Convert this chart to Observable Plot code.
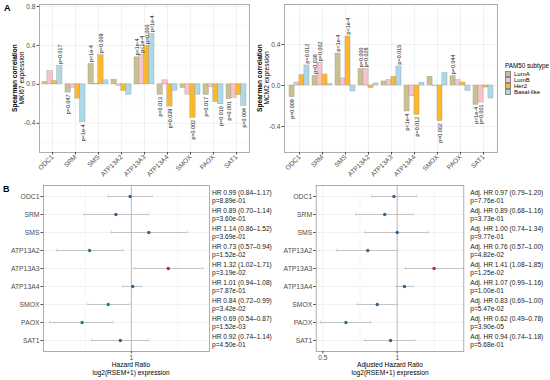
<!DOCTYPE html>
<html><head><meta charset="utf-8">
<script src="https://cdn.jsdelivr.net/npm/d3@7"></script>
<script src="https://cdn.jsdelivr.net/npm/@observablehq/plot@0.6"></script>
<style>
body{margin:0;background:#fff;font-family:"Liberation Sans",Arial,sans-serif}
#root{position:relative;width:550px;height:380px;overflow:hidden;background:#fff}
svg text{font-family:"Liberation Sans",Arial,sans-serif}
.plab{position:absolute;font-weight:bold;font-size:9px;color:#000}
.ytitle{position:absolute;transform-origin:0 0;transform:rotate(-90deg);white-space:nowrap;text-align:center;font-size:6.6px;line-height:7px;color:#000}
.xtitle{position:absolute;white-space:nowrap;text-align:center;font-size:6.6px;line-height:8px;color:#000}
.leg{position:absolute;font-size:6px;color:#000;line-height:6px}
.leg .row{display:flex;align-items:center;height:6px}
.leg .key{width:4px;height:4px;border:0.5px solid #888;margin-right:3px}
</style></head><body><div id="root"></div>
<script>
// ---- data ----
const genes = ["ODC1","SRM","SMS","ATP13A2","ATP13A3","ATP13A4","SMOX","PAOX","SAT1"];
const subtypes = ["LumA","LumB","Her2","Basal-like"];
const subtypeColors = ["#c9c28e","#f8c3ce","#fbb82b","#abd9e8"];

// Spearman correlation with MKI67
const mki67LumA  = [0.024,-0.085,0.209,0.048,0.277,-0.109,-0.038,-0.109,-0.150];
const mki67LumB  = [0.137,-0.034,0.004,-0.014,0.304,0.041,-0.106,-0.031,-0.137];
const mki67Her2  = [0.034,-0.147,0.300,-0.068,0.393,-0.229,-0.345,-0.181,-0.109];
const mki67Basal = [0.188,-0.390,0.041,-0.106,0.516,-0.065,-0.106,-0.205,-0.222];
const mki67PLumA  = ["","p=0.047","p<1e-4","","p<1e-4","p=0.013","","p=0.017","p=0.001"];
const mki67PLumB  = ["","","","","p<1e-4","","","",""];
const mki67PHer2  = ["","","p=0.009","","p=0.000","p=0.039","p=0.002","",""];
const mki67PBasal = ["p=0.017","p<1e-4","","","p<1e-4","","","p=0.010","p=0.004"];

// Spearman correlation with MCM2
const mcm2LumA  = [-0.114,0.094,0.312,0.159,0.039,-0.254,0.085,0.091,-0.189];
const mcm2LumB  = [0.029,0.218,0.068,0.159,0.052,-0.104,-0.003,0.052,-0.166];
const mcm2Her2  = [0.100,0.107,0.478,-0.026,0.085,-0.286,-0.348,0.029,-0.020];
const mcm2Basal = [0.195,0.013,-0.059,0.020,0.185,0.026,0.120,-0.052,-0.127];
const mcm2PLumA  = ["p=0.009","p=0.038","p<1e-4","p=0.000","","p<1e-4","","p=0.044","p<1e-4"];
const mcm2PLumB  = ["","p=0.002","","p=0.028","","","","","p=0.001"];
const mcm2PHer2  = ["","","p<1e-4","","","p=0.012","p=0.002","",""];
const mcm2PBasal = ["p=0.012","","","","p=0.015","","","",""];

// Cox models (hazard ratios)
const hr     = [0.99,0.89,1.14,0.73,1.32,1.01,0.84,0.69,0.92];
const hrLo   = [0.84,0.70,0.86,0.57,1.02,0.94,0.72,0.54,0.74];
const hrHi   = [1.17,1.14,1.52,0.94,1.71,1.08,0.99,0.87,1.14];
const hrP    = ["8.89e-01","3.60e-01","3.69e-01","1.52e-02","3.19e-02","7.87e-01","3.42e-02","1.52e-03","4.50e-01"];
const adjHr   = [0.97,0.89,1.00,0.76,1.41,1.07,0.83,0.62,0.94];
const adjHrLo = [0.79,0.68,0.74,0.57,1.08,0.99,0.69,0.49,0.74];
const adjHrHi = [1.20,1.16,1.34,1.00,1.85,1.16,1.00,0.78,1.18];
const adjHrP  = ["7.76e-01","3.73e-01","9.77e-01","4.82e-02","1.25e-02","1.00e-01","5.47e-02","3.90e-05","5.68e-01"];

const pointColors = {ns:"#2a659c", low:"#1d8a3e", high:"#c4262f"};
const FONT = "Liberation Sans, Arial, sans-serif";

// ---- helpers ----
const root = document.getElementById("root");
function place(el, left, top) {
  el.style.position = "absolute"; el.style.left = left + "px"; el.style.top = top + "px";
  root.appendChild(el);
}
function div(cls, html, left, top, extra) {
  const d = document.createElement("div"); d.className = cls; d.innerHTML = html;
  d.style.left = left + "px"; d.style.top = top + "px";
  if (extra) Object.assign(d.style, extra);
  root.appendChild(d); return d;
}

function barChart({vals, pl, width, height, mt, mr, mb, ml, yDomain, yTicks, yMinor}) {
  const rows = [];
  subtypes.forEach((s, i) => genes.forEach((g, j) =>
    rows.push({gene: g, subtype: s, i, value: vals[i][j], p: pl[i][j]})));
  const pIn = 0.15, pOut = 0.13;
  const step = (width - ml - mr) / (genes.length - pIn + 2 * pOut);
  const sub = step * (1 - pIn) / 4;
  const marks = [
    Plot.ruleY(yMinor, {stroke: "#f2f2f2", strokeWidth: 0.5}),
    Plot.gridY({ticks: yTicks, stroke: "#ebebeb", strokeOpacity: 1, strokeWidth: 0.7}),
    Plot.gridX({stroke: "#ebebeb", strokeOpacity: 1, strokeWidth: 0.7})
  ];
  subtypes.forEach((s, i) => {
    const d = rows.filter(r => r.subtype === s);
    marks.push(Plot.barY(d, {x: "gene", y: "value", fill: subtypeColors[i], stroke: "#9a9a9a",
      strokeWidth: 0.4, insetLeft: i * sub, insetRight: (3 - i) * sub}));
  });
  subtypes.forEach((s, i) => {
    const d = rows.filter(r => r.subtype === s && r.p);
    const dx = (i - 1.5) * sub;
    marks.push(Plot.text(d.filter(r => r.value >= 0), {x: "gene", y: "value", text: "p", rotate: -90,
      textAnchor: "start", dx, dy: -2, fontSize: 5.4, fontFamily: FONT, fill: "#1a1a1a"}));
    marks.push(Plot.text(d.filter(r => r.value < 0), {x: "gene", y: "value", text: "p", rotate: -90,
      textAnchor: "end", dx, dy: 2, fontSize: 5.4, fontFamily: FONT, fill: "#1a1a1a"}));
  });
  marks.push(Plot.frame({stroke: "#9a9a9a", strokeWidth: 0.8}));
  marks.push(Plot.axisY({ticks: yTicks, tickFormat: d => d.toFixed(1), tickSize: 2.5, tickPadding: 1.5,
    fontSize: 6.6, fill: "#4d4d4d", stroke: "#4d4d4d", label: null}));
  marks.push(Plot.axisX({tickRotate: -45, tickSize: 2.5, tickPadding: 1, fontSize: 6.6,
    fill: "#4d4d4d", stroke: "#4d4d4d", label: null}));
  return Plot.plot({
    width, height, marginTop: mt, marginRight: mr, marginBottom: mb, marginLeft: ml,
    style: {background: "transparent", overflow: "visible", fontFamily: FONT},
    x: {type: "band", domain: genes, paddingInner: pIn, paddingOuter: pOut},
    y: {domain: yDomain},
    marks
  });
}

function forest({est, lo, hi, pv, prefix, width, height, mt, mr, mb, ml, xDomain, xTicks, xMinor, annDx}) {
  const rows = genes.map((g, j) => ({gene: g, est: est[j], lo: lo[j], hi: hi[j],
    col: (parseFloat(pv[j]) < 0.05) ? (est[j] < 1 ? pointColors.low : pointColors.high) : pointColors.ns,
    l1: `${prefix} ${est[j].toFixed(2)} (${lo[j].toFixed(2)}\u2013${hi[j].toFixed(2)})`,
    l2: `p=${pv[j]}`}));
  const H = height - mt - mb;
  const step = H / (genes.length + 2 * 0.05);
  const cap = (step - 3) / 2;
  return Plot.plot({
    width, height, marginTop: mt, marginRight: mr, marginBottom: mb, marginLeft: ml,
    style: {background: "transparent", overflow: "visible", fontFamily: FONT},
    x: {type: "log", domain: xDomain},
    y: {type: "band", domain: genes, paddingInner: 0, paddingOuter: 0.05},
    marks: [
      Plot.gridY({stroke: "#ebebeb", strokeOpacity: 1, strokeWidth: 0.7}),
      Plot.ruleX(xMinor, {stroke: "#f2f2f2", strokeWidth: 0.6}),
      Plot.ruleX(xTicks, {stroke: "#ebebeb", strokeWidth: 0.7}),
      Plot.ruleX([1], {stroke: "#a8a8a8", strokeWidth: 0.7}),
      Plot.ruleY(rows, {y: "gene", x1: "lo", x2: "hi", stroke: "#b8b8b8", strokeWidth: 0.8}),
      Plot.tickX(rows, {x: "lo", y: "gene", stroke: "#b8b8b8", strokeWidth: 0.6, insetTop: cap, insetBottom: cap}),
      Plot.tickX(rows, {x: "hi", y: "gene", stroke: "#b8b8b8", strokeWidth: 0.6, insetTop: cap, insetBottom: cap}),
      Plot.dot(rows, {x: "est", y: "gene", r: 1.7, fill: "col", stroke: "none"}),
      Plot.text(rows, {y: "gene", text: "l1", frameAnchor: "right", textAnchor: "start", dx: annDx, dy: -4,
        fontSize: 6.6, fontFamily: FONT, fill: "#1a1a1a"}),
      Plot.text(rows, {y: "gene", text: "l2", frameAnchor: "right", textAnchor: "start", dx: annDx, dy: 4.5,
        fontSize: 6.6, fontFamily: FONT, fill: "#1a1a1a"}),
      Plot.frame({stroke: "#9a9a9a", strokeWidth: 0.8}),
      Plot.axisY({tickSize: 2.5, tickPadding: 1.5, fontSize: 6.8, fill: "#4d4d4d", stroke: "#4d4d4d", label: null}),
      Plot.axisX({ticks: xTicks, tickFormat: d => String(d), tickSize: 2.5, tickPadding: 1.5, fontSize: 6.6,
        fill: "#4d4d4d", stroke: "#4d4d4d", label: null})
    ]
  });
}

// ---- Panel A ----
div("plab", "A", 4, 3);
place(barChart({vals: [mki67LumA, mki67LumB, mki67Her2, mki67Basal],
  pl: [mki67PLumA, mki67PLumB, mki67PHer2, mki67PBasal],
  width: 252, height: 185, mt: 4, mr: 3, mb: 33, ml: 39,
  yDomain: [-0.70, 0.82], yTicks: [-0.4, 0, 0.4, 0.8], yMinor: [-0.6, -0.2, 0.2, 0.6]}), 0, 0);
div("ytitle", "<b>Spearman correlation</b><br>MKI67 expression", 11, 78 + 40, {width: "80px"});

place(barChart({vals: [mcm2LumA, mcm2LumB, mcm2Her2, mcm2Basal],
  pl: [mcm2PLumA, mcm2PLumB, mcm2PHer2, mcm2PBasal],
  width: 255, height: 185, mt: 4, mr: 10, mb: 33, ml: 32,
  yDomain: [-0.654, 0.79], yTicks: [-0.4, 0, 0.4], yMinor: [-0.6, -0.2, 0.2, 0.6]}), 252, 0);
div("ytitle", "<b>Spearman correlation</b><br>MCM2 expression", 256, 78 + 40, {width: "80px"});

// legend
const leg = div("leg", "", 505, 63);
leg.innerHTML = `<div style="font-size:6.3px;margin-bottom:2px">PAM50 subtype</div>` +
  subtypes.map((s, i) => `<div class="row"><span class="key" style="background:${subtypeColors[i]}"></span>${s}</div>`).join("");

// ---- Panel B ----
div("plab", "B", 3, 184);
place(forest({est: hr, lo: hrLo, hi: hrHi, pv: hrP, prefix: "HR",
  width: 275, height: 196, mt: 1, mr: 66, mb: 29, ml: 43,
  xDomain: [0.516, 1.80], xTicks: [1], xMinor: [Math.SQRT1_2, Math.SQRT2], annDx: 2.5}), 0, 184);
div("xtitle", "Hazard Ratio<br>log2(RSEM+1) expression", 86, 361, {width: "90px"});

place(forest({est: adjHr, lo: adjHrLo, hi: adjHrHi, pv: adjHrP, prefix: "Adj. HR",
  width: 275, height: 196, mt: 1, mr: 86.7, mb: 29, ml: 40.7,
  xDomain: [0.47, 1.86], xTicks: [0.5, 1], xMinor: [Math.SQRT1_2, Math.SQRT2], annDx: 6.5}), 275, 184);
div("xtitle", "Adjusted Hazard Ratio<br>log2(RSEM+1) expression", 345, 361, {width: "90px"});
</script></body></html>
